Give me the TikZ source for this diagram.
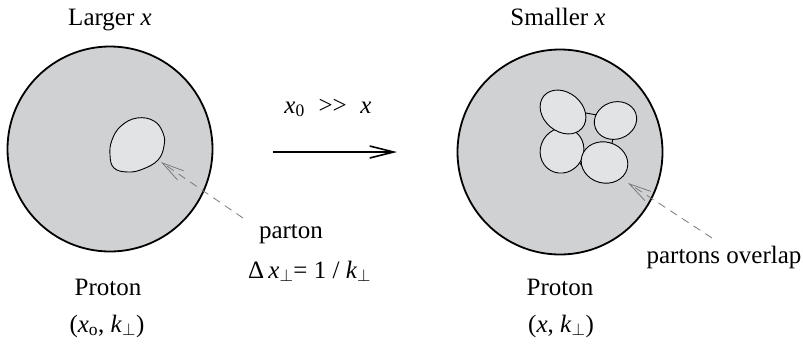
\documentclass[tikz,border=0pt]{standalone}
\usepackage{fontspec}
\setmainfont{Liberation Serif}[Ligatures=NoCommon]
\usetikzlibrary{arrows.meta}
\definecolor{protongray}{HTML}{D0D1D3}
\definecolor{blobgray}{HTML}{E2E3E5}
\definecolor{pointergray}{HTML}{7A7A7A}
\newcommand{\perpsub}{\textsubscript{$\perp$}}
\begin{document}
\begin{tikzpicture}[x=1pt,y=-1pt,
  lbl/.style={font=\fontsize{25}{30}\selectfont, inner sep=0pt, anchor=base},
  proton/.style={circle, draw=black, line width=1.8pt, fill=protongray, minimum size=205pt, inner sep=0pt},
  blob/.style={draw=black, line width=0.9pt, fill=blobgray},
  pointer/.style={draw=pointergray, line width=0.8pt, dash pattern=on 8pt off 6pt,
    -{Straight Barb[length=22pt,width=11pt,line width=0.8pt]}},
  mainarrow/.style={line width=1.6pt, -{Straight Barb[length=24pt,width=12pt,line width=1.6pt]}}]
\useasboundingbox (0,0) rectangle (803,346);

% protons
\node[proton] (pL) at (110,149) {};
\node[proton] (pR) at (560,152) {};

% single parton (left)
\draw[blob] plot[smooth cycle, tension=0.7] coordinates {(137,118) (154,121) (163,133) (164,146) (158,160) (143,169) (128,172) (114,168) (110,155) (112,140) (121,126)};

% overlapping partons (right)
\draw[line width=0.9pt] (586,113) -- (597,115);
\draw[line width=0.9pt] (613,137) -- (612,144);
\draw[line width=0.9pt] (580,163) -- (584,169);
\draw[blob] (562,150.5) ellipse [x radius=23pt, y radius=21.5pt, rotate=60];
\draw[blob] (563,112) ellipse [x radius=25pt, y radius=19.5pt, rotate=-40];
\draw[blob] (604.5,162.5) ellipse [x radius=23.5pt, y radius=20.5pt, rotate=-15];
\draw[blob] (615.5,120.5) ellipse [x radius=21.5pt, y radius=18.5pt, rotate=20];

% labels
\node[lbl] (tL) at (110,25) {Larger \textit{x}};
\node[lbl] (tR) at (558,25) {Smaller \textit{x}};
\node[lbl] (cond) at (328,113) {\textit{x}\textsubscript{0}\hspace{0.55em}>{}>\hspace{0.55em}\textit{x}};
\node[lbl] (parton) at (291,238) {parton};
\node[lbl, anchor=base west] (dx) at (248,278) {Δ\,\textit{x}\perpsub= 1 / \textit{k}\perpsub};
\node[lbl] (prL) at (108,295) {Proton};
\node[lbl] (kinL) at (107,332) {(\textit{x}\textsubscript{o}, \textit{k}\perpsub)};
\node[lbl] (prR) at (560,295) {Proton};
\node[lbl] (kinR) at (561,332) {(\textit{x}, \textit{k}\perpsub)};
\node[lbl] (overlap) at (724,263) {partons overlap};

% main arrow
\coordinate (aS) at (273,152);
\coordinate (aE) at (397,152);
\draw[mainarrow] (aS) -- (aE);

% pointers
\coordinate (p1s) at (243,218);
\coordinate (p1e) at (161,162);
\coordinate (p2s) at (712,238);
\coordinate (p2e) at (628,183);
\draw[pointer] (p1s) -- (p1e);
\draw[pointer] (p2s) -- (p2e);
\end{tikzpicture}
\end{document}
